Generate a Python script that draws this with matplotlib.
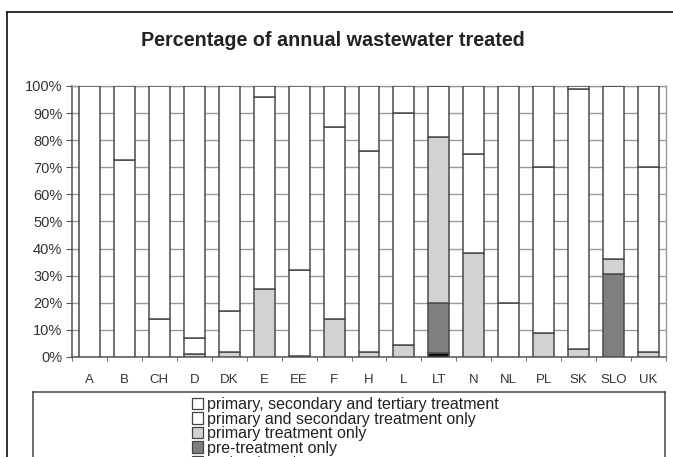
import matplotlib
matplotlib.use("Agg")
import matplotlib.pyplot as plt
from matplotlib.patches import Patch
from matplotlib.lines import Line2D
import numpy as np

plt.rcParams['font.family'] = ['Liberation Sans', 'DejaVu Sans']

countries = ["A", "B", "CH", "D", "DK", "E", "EE", "F", "H", "L",
             "LT", "N", "NL", "PL", "SK", "SLO", "UK"]

# shares of annual wastewater by treatment level (%), stacked bottom to top
not_treated = [0, 0, 0, 0, 0, 0, 0, 0, 0, 0, 1.5, 0, 0, 0, 0, 0, 0]
pre_treatment = [0, 0, 0, 0, 0, 0, 0, 0, 0, 0, 18.5, 0, 0, 0, 0, 30.5, 0]
primary_only = [0, 0, 0, 1, 2, 25, 0.5, 14, 2, 4.5, 61, 38.5, 0, 8.7, 3, 5.5, 2]
secondary_only = [0, 72.7, 14, 6, 15, 71, 31.5, 71, 74, 85.5, 19, 36.5, 20,
                  61.5, 96, 64, 68]
tertiary = [100, 27.3, 86, 93, 83, 4, 68, 15, 24, 10, 0, 25, 80,
            29.8, 1, 0, 30]

series = [
    ("no treatment", not_treated, "#111111"),
    ("pre-treatment only", pre_treatment, "#7f7f7f"),
    ("primary treatment only", primary_only, "#d2d2d2"),
    ("primary and secondary treatment only", secondary_only, "#ffffff"),
    ("primary, secondary and tertiary treatment", tertiary, "#ffffff"),
]

W, H = 673, 457
fig = plt.figure(figsize=(W / 100, H / 100), dpi=100)
fig.patch.set_facecolor("white")

# outer frame (left and top edges)
fig.add_artist(Line2D([7 / W, 7 / W], [0, 1 - 12 / H], color="#222222", lw=1.3))
fig.add_artist(Line2D([7 / W, 1], [1 - 12 / H, 1 - 12 / H], color="#222222", lw=1.3))

fig.text(333 / W, 1 - 40 / H, "Percentage of annual wastewater treated",
         ha="center", va="center", fontsize=14.2, fontweight="bold", color="#222222")

ax = fig.add_axes([72 / W, 1 - 357 / H, 594 / W, 271 / H])
x = np.arange(len(countries))
bottom = np.zeros(len(countries))
for name, vals, col in series:
    vals = np.array(vals, dtype=float)
    ax.bar(x, vals, 0.6, bottom=bottom, color=col, edgecolor="#4a4a4a",
           linewidth=1.1, zorder=3, label=name)
    bottom += vals

ax.set_xlim(-0.5, len(countries) - 0.5)
ax.set_ylim(0, 100)
ax.set_yticks(np.arange(0, 101, 10))
ax.set_yticklabels([f"{v}%" for v in range(0, 101, 10)], fontsize=10.5, color="#333333")
ax.yaxis.grid(True, color="#9a9a9a", lw=1.0, zorder=0)
ax.set_axisbelow(True)

ax.set_xticks(x)
ax.set_xticklabels(countries, fontsize=9.5, color="#333333")
ax.set_xticks(np.arange(-0.5, len(countries), 1), minor=True)
ax.tick_params(axis="x", which="major", length=0, pad=12)
ax.tick_params(axis="x", which="minor", length=3, color="#555555", direction="out")
ax.tick_params(axis="y", length=4, color="#555555", direction="out", pad=3)

for s in ("left", "bottom"):
    ax.spines[s].set_color("#555555")
    ax.spines[s].set_linewidth(1.1)
for s in ("top", "right"):
    ax.spines[s].set_color("#9a9a9a")
    ax.spines[s].set_linewidth(1.0)

# legend box below the plot
lax = fig.add_axes([33 / W, -0.2, 632 / W, 0.2 + (1 - 392 / H)])
lax.set_xticks([])
lax.set_yticks([])
for s in lax.spines.values():
    s.set_color("#444444")
    s.set_linewidth(1.1)

handles = [Patch(facecolor=col, edgecolor="#444444", linewidth=0.9)
           for _, _, col in series[::-1]]
labels = [name for name, _, _ in series[::-1]]
fig.legend(handles, labels, loc="upper left",
           bbox_to_anchor=(192 / W, 1 - 397 / H), frameon=False,
           fontsize=11.5, labelspacing=-0.03, handlelength=0.7, handleheight=0.75,
           handletextpad=0.25, borderpad=0, borderaxespad=0, labelcolor="#222222")

fig.savefig("out.png", dpi=100, facecolor="white")
